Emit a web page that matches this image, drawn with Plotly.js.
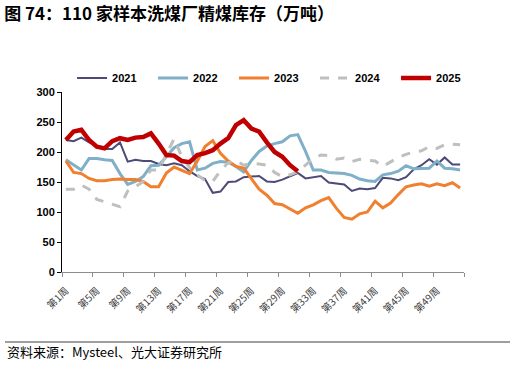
<!DOCTYPE html>
<html>
<head>
<meta charset="utf-8">
<script src="https://cdn.plot.ly/plotly-3.0.1.min.js"></script>
<style>html,body{margin:0;padding:0;background:#fff;}#chart{width:516px;height:365px;}</style>
</head>
<body>
<div id="chart"></div>
<script>
const weeks = [1,2,3,4,5,6,7,8,9,10,11,12,13,14,15,16,17,18,19,20,21,22,23,24,25,26,27,28,29,30,31,32,33,34,35,36,37,38,39,40,41,42,43,44,45,46,47,48,49,50,51,52];
const tickWeeks = [1,5,9,13,17,21,25,29,33,37,41,45,49];
const tickLabels = ["第1周","第5周","第9周","第13周","第17周","第21周","第25周","第29周","第33周","第37周","第41周","第45周","第49周"];
const seriesNames = ["2021","2022","2023","2024","2025"];

const y2021 = [220,218,224,216,210,205,205,216,184,187,185,185,180,178,181,178,168,160,155,132,134,150,151,158,159,160,151,150,154,159,165,156,158,160,149,147,146,135,139,138,140,157,156,153,158,171,178,188,179,191,179,179];
const y2022 = [187,178,170,189,189,187,186,164,146,151,159,177,178,192,207,214,217,170,173,181,184,183,176,167,186,201,210,214,217,227,229,201,170,170,166,165,164,161,155,152,151,162,164,168,177,172,172,173,185,173,172,170];
const y2023 = [185,166,164,156,152,152,154,155,154,154,151,142,142,165,175,169,164,185,209,219,198,185,176,173,155,138,128,114,112,105,98,107,112,119,124,106,91,88,97,100,118,107,115,129,142,145,147,143,147,144,149,140];
const y2024 = [138,138,145,138,121,117,113,109,135,142,151,170,170,196,222,192,174,162,152,151,169,182,186,178,181,180,178,166,159,162,167,178,189,195,194,188,190,184,188,186,185,176,183,191,196,200,202,209,206,212,213,212];
const y2025 = [220,234,237,220,209,206,218,223,220,224,225,231,214,195,194,185,183,195,198,203,214,223,245,253,239,234,216,200,192,178,168];

const seriesValues = [y2021, y2022, y2023, y2024, y2025];
const styles = [
  {color:"#4d4a78", width:2},
  {color:"#80b0c8", width:3},
  {color:"#f0802f", width:3},
  {color:"#bfbfbf", width:3, dash:"dash"},
  {color:"#c00000", width:4.5}
];

const traces = seriesValues.map((vals, i) => ({
  type: "scatter",
  mode: "lines",
  name: seriesNames[i],
  x: weeks.slice(0, vals.length),
  y: vals,
  line: Object.assign({shape:"linear"}, styles[i]),
  hoverinfo: "skip"
}));

const boundaries = tickWeeks.map(w => w - 0.5).concat([weeks[weeks.length-1] + 0.5]);

const layout = {
  width: 516, height: 365,
  margin: {l:62, r:52, t:92, b:93, pad:0, autoexpand: false},
  paper_bgcolor: "#fff", plot_bgcolor: "#fff",
  showlegend: true,
  title: {
    text: "图 74：110 家样本洗煤厂精煤库存（万吨）",
    x: 0.008, xref: "container", xanchor: "left",
    y: 0.962, yref: "container", yanchor: "middle",
    font: {family: "Noto Sans CJK SC", size: 17, color: "#000", weight: "bold"}
  },
  legend: {
    orientation: "h",
    x: 0.025, xanchor: "left",
    y: 1.078, yanchor: "middle",
    entrywidth: 36, entrywidthmode: "pixels",
    font: {family: "Liberation Sans", size: 11, color: "#000", weight: "bold"},
    bgcolor: "rgba(0,0,0,0)", borderwidth: 0,
    traceorder: "normal"
  },
  xaxis: {
    type: "linear",
    range: [0.5, 52.5],
    tickmode: "array",
    tickvals: tickWeeks,
    ticktext: tickLabels,
    tickangle: -45,
    ticks: "",
    ticklabelstandoff: 8,
    showgrid: false, zeroline: false,
    showline: true, linecolor: "#8c8c8c", linewidth: 1,
    tickfont: {family: "Noto Sans CJK SC", size: 10, color: "#404040"},
    minor: {tickmode: "array", tickvals: boundaries, ticks: "outside", ticklen: 4, tickcolor: "#8c8c8c", tickwidth: 1, showgrid: false}
  },
  yaxis: {
    range: [0, 300],
    tickmode: "array",
    tickvals: [0,50,100,150,200,250,300],
    ticks: "outside", ticklen: 4, tickcolor: "#000", tickwidth: 1,
    showgrid: false, zeroline: false,
    showline: true, linecolor: "#000", linewidth: 1,
    tickfont: {family: "Liberation Sans", size: 11, color: "#000", weight: "bold"}
  },
  shapes: [{
    type: "line", xref: "paper", yref: "paper",
    x0: -0.1418, x1: 1.1144, y0: -0.3889, y1: -0.3889,
    line: {color: "#7f7f7f", width: 1.5}
  }],
  annotations: [{
    text: "资料来源：Mysteel、光大证券研究所",
    xref: "paper", yref: "paper",
    x: -0.1418, y: -0.444, xanchor: "left", yanchor: "middle",
    showarrow: false,
    font: {family: "Noto Sans CJK SC", size: 13, color: "#000"}
  }]
};

Plotly.newPlot("chart", traces, layout, {staticPlot: true, displayModeBar: false});
</script>
</body>
</html>
